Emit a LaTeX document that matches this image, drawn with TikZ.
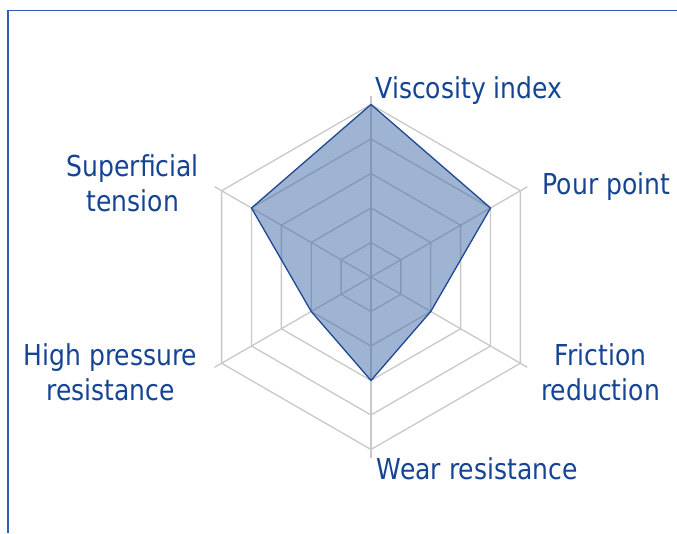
\documentclass[tikz,border=0pt]{standalone}
\usepackage{fontspec}
\setmainfont{DejaVu Sans}[FakeStretch=0.87]
\definecolor{txtblue}{RGB}{22,68,148}
\definecolor{framblue}{RGB}{46,92,184}
\definecolor{gridgray}{RGB}{200,200,200}
\definecolor{datablue}{RGB}{64,104,166}
\definecolor{edgeblue}{RGB}{30,72,150}
\tikzset{
  framepath/.style={draw=framblue, line width=1.6pt},
  gridline/.style={draw=gridgray, line width=1.3pt},
  datashape/.style={fill=datablue, fill opacity=0.5, draw=edgeblue, line width=1.3pt, line join=miter},
  axislabel/.style={text=txtblue, inner sep=0pt, font=\fontsize{28.8}{35.5}\selectfont},
}
\begin{document}
\begin{tikzpicture}[x=1pt,y=1pt]
\useasboundingbox (0,0) rectangle (677,533);
\draw[framepath] (8,0) -- (8,522.5) -- (677,522.5);
\begin{scope}[shift={(371,256)}]
  \coordinate (c) at (0,0);
  \foreach \k in {1,...,5}{
    \draw[gridline] (90:{\k*34.5}) \foreach \a in {30,-30,-90,-150,150}{ -- (\a:{\k*34.5})} -- cycle;
  }
  \foreach \a/\n in {90/vi,30/pp,-30/fr,-90/wr,-150/hp,150/st}{
    \coordinate (tip-\n) at (\a:180.5);
    \draw[gridline] (c) -- (tip-\n);
  }
  \coordinate (d1) at (90:172.5);
  \coordinate (d2) at (30:138);
  \coordinate (d3) at (-30:69);
  \coordinate (d4) at (-90:103.5);
  \coordinate (d5) at (-150:69);
  \coordinate (d6) at (150:138);
  \path[datashape] (d1) -- (d2) -- (d3) -- (d4) -- (d5) -- (d6) -- cycle;
\end{scope}
\node[axislabel, anchor=base west] (lvi) at (375.3,434.7) {Viscosity index};
\node[axislabel, anchor=base west] (lpp) at (542.5,338.7) {Pour point};
\node[axislabel, anchor=base west] (lwr) at (376.5,54) {Wear resistance};
\node[axislabel, anchor=base, align=center] (lst) at (132.8,321.3) {Superficial\\tension};
\node[axislabel, anchor=base, align=center] (lhp) at (110.5,132) {High pressure\\resistance};
\node[axislabel, anchor=base, align=center] (lfr) at (600.5,132) {Friction\\reduction};
\end{tikzpicture}
\end{document}
